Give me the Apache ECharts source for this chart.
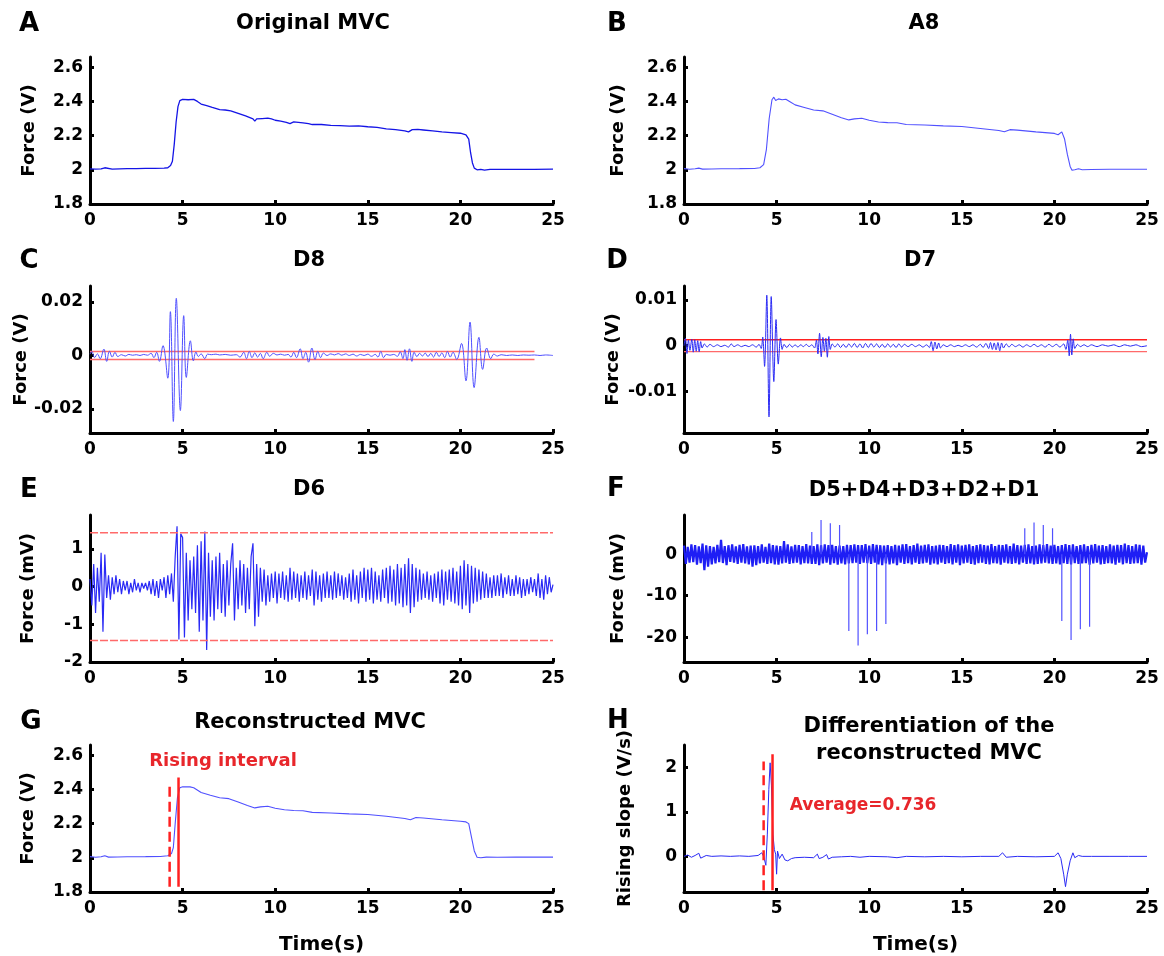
<!DOCTYPE html>
<html><head><meta charset="utf-8">
<script src="https://cdn.jsdelivr.net/npm/echarts@6/dist/echarts.min.js"></script>
<style>html,body{margin:0;padding:0;background:#fff}#c{width:1164px;height:956px}</style>
</head><body><div id="c"></div>
<script>
// ---------------- DATA ----------------
const xTicks = [0, 5, 10, 15, 20, 25];

// A: original MVC force (V), [time s, value]
const origMVC = [[0,2.006],[0.3,2.004],[0.6,2.005],[0.8,2.012],[0.9,2.006],[1.2,2.004],[1.6,2.006],[2.0,2.007],[2.5,2.007],[3.0,2.008],[3.5,2.009],[4.0,2.010],[4.2,2.012],[4.35,2.025],[4.45,2.05],[4.55,2.15],[4.65,2.28],[4.75,2.37],[4.85,2.405],[5.0,2.412],[5.3,2.41],[5.6,2.412],[5.8,2.4],[6.0,2.385],[6.3,2.375],[6.6,2.365],[7.0,2.352],[7.3,2.35],[7.6,2.345],[8.0,2.33],[8.4,2.315],[8.8,2.298],[8.9,2.285],[9.0,2.298],[9.3,2.3],[9.6,2.302],[9.8,2.298],[10.0,2.29],[10.3,2.285],[10.6,2.278],[10.8,2.27],[11.0,2.28],[11.5,2.275],[11.8,2.27],[12.0,2.265],[12.5,2.265],[13.0,2.26],[13.5,2.258],[14.0,2.256],[14.5,2.257],[15.0,2.252],[15.5,2.248],[16.0,2.24],[16.5,2.235],[17.0,2.228],[17.2,2.222],[17.4,2.235],[17.7,2.236],[18.0,2.233],[18.5,2.228],[19.0,2.222],[19.5,2.218],[20.0,2.214],[20.3,2.205],[20.45,2.18],[20.55,2.1],[20.65,2.04],[20.75,2.01],[20.9,2.0],[21.1,2.003],[21.3,1.998],[21.6,2.002],[22.0,2.002],[23.0,2.003],[24.0,2.003],[25.0,2.004]];

// B: approximation A8 (V)
const approxA8 = [[0,2.007],[0.3,2.003],[0.6,2.006],[0.8,2.01],[1.0,2.004],[1.5,2.005],[2,2.006],[3,2.007],[3.8,2.008],[4.1,2.012],[4.3,2.03],[4.45,2.12],[4.6,2.3],[4.75,2.41],[4.85,2.425],[4.95,2.405],[5.1,2.415],[5.3,2.41],[5.5,2.413],[5.7,2.4],[6.0,2.38],[6.5,2.365],[7.0,2.35],[7.5,2.345],[8.0,2.325],[8.5,2.305],[8.9,2.292],[9.2,2.298],[9.6,2.302],[10.0,2.29],[10.5,2.28],[11.0,2.276],[11.5,2.275],[12.0,2.265],[13.0,2.262],[14.0,2.257],[15.0,2.253],[16.0,2.242],[17.0,2.23],[17.3,2.223],[17.6,2.235],[18.0,2.232],[19.0,2.222],[20.0,2.213],[20.2,2.205],[20.4,2.222],[20.55,2.18],[20.7,2.09],[20.85,2.02],[20.95,1.998],[21.1,2.0],[21.3,2.006],[21.5,2.0],[22,2.002],[23,2.003],[25,2.003]];

// C: detail D8 (V)
const detailD8 = [[0,0.0005],[0.1,0.0015],[0.25,-0.0008],[0.4,0.0006],[0.55,-0.0012],[0.75,0.0024],[0.9,-0.0022],[1.05,0.0016],[1.2,-0.0006],[1.35,0.0012],[1.5,-0.0004],[1.7,0.0003],[1.9,-0.0002],[2.1,0.0004],[2.3,0.0001],[2.5,0.0003],[2.7,0],[2.9,0.0004],[3.1,0.0001],[3.3,0.0008],[3.45,-0.0008],[3.6,0.0012],[3.75,-0.0022],[3.94,0.0037],[4.2,-0.0085],[4.34,0.0164],[4.5,-0.0247],[4.66,0.0214],[4.88,-0.0206],[5.06,0.0149],[5.2,-0.0082],[5.42,0.0055],[5.58,-0.002],[5.72,0.0013],[5.85,-0.0004],[6.0,0.0006],[6.2,-0.0012],[6.35,0.0005],[6.55,0.0003],[6.8,0.0005],[7.0,0.0002],[7.3,0.0004],[7.6,0.0001],[7.9,0.0003],[8.1,-0.0006],[8.3,0.0012],[8.45,-0.0012],[8.6,0.0015],[8.75,-0.0008],[8.9,0.001],[9.05,-0.0006],[9.2,0.0008],[9.35,-0.0012],[9.55,0.0012],[9.7,-0.0003],[9.9,0.0008],[10.1,0.0002],[10.3,0.0005],[10.5,0.0001],[10.7,0.0004],[10.85,-0.0006],[11.0,0.0012],[11.15,-0.0008],[11.35,0.0025],[11.5,-0.0012],[11.65,0.0012],[11.8,-0.0025],[11.98,0.0028],[12.15,-0.0015],[12.3,0.0015],[12.45,-0.0008],[12.6,0.0009],[12.8,0],[13.0,0.0006],[13.2,0.0002],[13.4,0.0007],[13.6,0.0001],[13.8,0.0006],[14.0,0],[14.2,0.0005],[14.4,-0.0002],[14.6,0.0004],[14.8,0],[15.0,0.0005],[15.2,-0.0003],[15.4,0.0004],[15.55,-0.0006],[15.7,0.0015],[15.85,-0.0008],[16.0,0.0004],[16.2,0.0001],[16.4,0.0004],[16.6,-0.0003],[16.75,0.0014],[16.9,-0.0012],[17.0,0.0022],[17.12,-0.0018],[17.25,0.0025],[17.38,-0.0022],[17.5,0.0012],[17.65,-0.0004],[17.8,0.0008],[17.95,-0.0002],[18.1,0.0009],[18.25,-0.0004],[18.4,0.0008],[18.55,-0.0006],[18.7,0.0012],[18.85,-0.0004],[19.0,0.001],[19.15,-0.0008],[19.3,0.0015],[19.45,-0.0006],[19.6,0.0012],[19.8,-0.0015],[20.06,0.0045],[20.3,-0.0095],[20.52,0.0125],[20.74,-0.012],[21.0,0.0068],[21.2,-0.0052],[21.42,0.0028],[21.64,-0.0012],[21.8,0.0005],[22.0,-0.0002],[22.2,0.0003],[22.5,0],[22.8,0.0002],[23.1,0],[23.4,0.0002],[23.7,0.0001],[24.0,0.0002],[24.3,0],[24.6,0.0002],[25.0,0]];
const d8Threshold = [0.0015, -0.0015];
const d8ThresholdSpan = [0, 24];

// D: detail D7 (V)
const detailD7 = [[0,0],[0.08,0.0016],[0.16,-0.0017],[0.24,0.0012],[0.32,-0.001],[0.42,0.0014],[0.5,-0.0014],[0.58,0.0013],[0.66,-0.0012],[0.74,0.0011],[0.82,-0.0013],[0.9,0.0009],[0.98,-0.0005],[1.1,0.0004],[1.25,-0.0003],[1.4,0.0003],[1.6,-0.0002],[1.8,0.0002],[2.0,-0.0002],[2.2,0.0001],[2.4,-0.0003],[2.55,0.0004],[2.7,-0.0002],[2.9,0.0002],[3.1,-0.0002],[3.3,0.0001],[3.5,-0.0002],[3.7,0.0002],[3.9,-0.0003],[4.05,0.0003],[4.17,-0.0006],[4.25,0.0019],[4.35,-0.0045],[4.47,0.011],[4.59,-0.0155],[4.71,0.0107],[4.85,-0.0078],[4.97,0.0057],[5.09,-0.004],[5.21,0.0017],[5.3,-0.0008],[5.4,0.0003],[5.55,-0.0004],[5.7,0.0003],[5.85,-0.0003],[6.0,0.0002],[6.15,-0.0003],[6.3,0.0002],[6.45,-0.0002],[6.6,0.0003],[6.75,-0.0002],[6.9,0.0002],[7.05,-0.0005],[7.15,0.0012],[7.23,-0.0018],[7.32,0.0027],[7.41,-0.0024],[7.5,0.0018],[7.58,-0.0012],[7.66,0.0016],[7.74,-0.0025],[7.82,0.002],[7.9,-0.0008],[8.0,0.0004],[8.15,-0.0003],[8.3,0.0004],[8.45,-0.0004],[8.6,0.0003],[8.75,-0.0004],[8.9,0.0004],[9.05,-0.0003],[9.2,0.0005],[9.35,-0.0004],[9.5,0.0004],[9.65,-0.0005],[9.8,0.0005],[9.95,-0.0004],[10.1,0.0005],[10.25,-0.0003],[10.4,0.0004],[10.55,-0.0004],[10.7,0.0003],[10.85,-0.0004],[11.0,0.0004],[11.15,-0.0003],[11.3,0.0003],[11.45,-0.0004],[11.6,0.0004],[11.75,-0.0003],[11.9,0.0003],[12.1,-0.0002],[12.3,0.0003],[12.5,-0.0002],[12.7,0.0002],[12.9,-0.0003],[13.1,0.0002],[13.25,-0.0004],[13.35,0.0009],[13.45,-0.0011],[13.55,0.0008],[13.65,-0.0007],[13.75,0.0006],[13.85,-0.0005],[14.0,0.0002],[14.2,-0.0002],[14.4,0.0002],[14.6,-0.0002],[14.8,0.0001],[15.0,-0.0002],[15.2,0.0002],[15.4,-0.0002],[15.6,0.0002],[15.8,-0.0003],[16.0,0.0003],[16.15,-0.0004],[16.3,0.0005],[16.45,-0.0006],[16.55,0.0007],[16.65,-0.0008],[16.75,0.0006],[16.85,-0.0009],[16.95,0.0007],[17.05,-0.0011],[17.15,0.0006],[17.25,-0.0005],[17.4,0.0004],[17.55,-0.0003],[17.7,0.0003],[17.9,-0.0002],[18.1,0.0002],[18.3,-0.0003],[18.5,0.0002],[18.7,-0.0002],[18.9,0.0003],[19.1,-0.0002],[19.3,0.0002],[19.5,-0.0003],[19.7,0.0003],[19.9,-0.0002],[20.1,0.0003],[20.3,-0.0003],[20.5,0.0004],[20.62,-0.0008],[20.72,0.0012],[20.8,-0.0022],[20.87,0.0025],[20.94,-0.002],[21.02,0.0015],[21.1,-0.0006],[21.25,0.0003],[21.4,-0.0002],[21.6,0.0002],[21.8,-0.0002],[22.0,0.0002],[22.3,-0.0002],[22.6,0.0002],[22.9,-0.0001],[23.2,0.0002],[23.5,-0.0002],[23.8,0.0002],[24.1,-0.0001],[24.4,0.0002],[24.7,-0.0002],[25.0,0]];
const d7Threshold = [0.0013, -0.0013];

// E: detail D6 (mV), one sample every 0.1 s from 0 to 25 s
const d6Step = 0.1;
const detailD6 = [
 0.2,-0.5,0.6,-0.7,0.5,-0.4,0.9,-1.2,0.85,-0.3,
 0.3,-0.35,0.25,-0.2,0.3,-0.15,0.2,-0.2,0.15,-0.1,
 0.15,-0.2,0.1,-0.15,0.2,-0.1,0.1,-0.15,0.1,-0.05,
 0.1,-0.1,0.15,-0.2,0.2,-0.25,0.15,-0.3,0.2,-0.1,
 0.25,-0.3,0.3,-0.2,0.35,-0.4,0.8,1.6,-1.4,1.4,
 1.3,-1.35,0.9,-0.9,0.7,-0.6,0.8,-0.7,1.1,-1.2,
 1.2,-0.9,1.46,-1.68,0.9,-0.8,0.7,-0.9,0.8,-0.6,
 0.9,-0.7,0.6,-0.8,0.7,-0.5,0.6,1.15,-0.9,0.5,
 -0.6,0.7,-0.5,0.6,-0.7,0.5,-0.6,0.8,1.15,-1.05,
 0.6,-0.8,0.5,-0.4,0.45,-0.5,0.3,-0.4,0.35,-0.3,
 0.4,-0.45,0.35,-0.3,0.4,-0.35,0.3,-0.4,0.5,-0.35,
 0.4,-0.3,0.35,-0.4,0.3,-0.3,0.4,-0.35,0.3,-0.25,
 0.45,-0.5,0.4,-0.35,0.3,-0.4,0.35,-0.3,0.4,-0.3,
 0.3,-0.35,0.4,-0.3,0.35,-0.25,0.3,-0.35,0.25,-0.3,
 0.35,-0.4,0.45,-0.35,0.3,-0.45,0.4,-0.3,0.5,-0.4,
 0.45,-0.35,0.5,-0.45,0.4,-0.35,0.3,-0.4,0.45,-0.3,
 0.5,-0.45,0.55,-0.4,0.45,-0.5,0.6,-0.45,0.5,-0.55,
 0.6,-0.5,0.75,-0.7,0.6,-0.55,0.5,-0.4,0.45,-0.35,
 0.35,-0.3,0.4,-0.35,0.3,-0.4,0.35,-0.3,0.4,-0.45,
 0.45,-0.5,0.4,-0.35,0.45,-0.4,0.5,-0.45,0.4,-0.5,
 0.55,-0.6,0.7,-0.5,0.6,-0.7,0.55,-0.45,0.5,-0.4,
 0.45,-0.35,0.4,-0.3,0.35,-0.3,0.25,-0.3,0.3,-0.25,
 0.3,-0.25,0.35,-0.3,0.25,-0.2,0.3,-0.25,0.2,-0.25,
 0.3,-0.2,0.25,-0.3,0.2,-0.25,0.2,-0.2,0.25,-0.15,
 0.2,-0.25,0.35,-0.3,0.2,-0.35,0.3,-0.2,0.25,-0.15,
 0.05];
const d6Threshold = [1.43, -1.43];

// F: D5+D4+D3+D2+D1 (mV): background noise, one sample every 0.1 s
const highStep = 0.1;
const highNoise = [
 2.1,-2.3,1.8,-2.0,2.4,-1.9,2.2,-2.5,1.9,-2.1,
 2.6,-3.8,2.2,-3.0,2.0,-2.4,1.8,-2.2,2.3,-1.9,
 3.5,-2.1,2.0,-2.6,2.2,-1.8,2.4,-2.0,1.9,-2.3,
 2.3,-2.0,2.5,-2.2,1.9,-2.4,2.1,-3.0,2.2,-2.6,
 2.0,-2.2,2.4,-2.0,1.8,-2.3,2.6,-2.1,2.2,-2.4,
 2.1,-2.5,2.0,-2.2,3.2,-2.0,2.4,-2.3,1.9,-2.1,
 2.3,-2.0,2.2,-2.4,2.0,-2.1,2.5,-2.2,2.1,-2.3,
 2.0,-2.3,2.4,-2.6,2.2,-2.2,2.4,-2.0,2.2,-2.5,
 2.3,-2.1,2.0,-2.5,2.1,-2.2,2.0,-2.4,2.3,-2.2,
 2.2,-2.1,2.4,-2.0,2.2,-2.3,2.2,-2.0,2.5,-2.1,
 2.1,-2.3,2.5,-2.0,2.3,-2.4,2.2,-2.6,2.1,-2.2,
 2.2,-2.4,2.0,-2.2,2.3,-2.6,2.1,-2.0,2.4,-2.3,
 2.5,-2.1,2.0,-2.4,2.2,-2.0,2.6,-2.3,2.1,-2.2,
 2.3,-2.0,2.4,-2.5,2.0,-2.2,2.1,-2.4,2.3,-2.0,
 2.2,-2.3,2.0,-2.1,2.5,-2.4,2.2,-2.0,2.4,-2.6,
 2.1,-2.2,2.3,-2.0,2.4,-2.3,2.0,-2.5,2.2,-2.1,
 2.4,-2.0,2.2,-2.3,2.1,-2.4,2.5,-2.1,2.0,-2.2,
 2.3,-2.5,2.2,-2.0,2.4,-2.2,2.0,-2.3,2.6,-2.1,
 2.2,-2.4,2.1,-2.0,2.3,-2.3,2.4,-2.2,2.0,-2.4,
 2.1,-2.3,2.4,-2.2,2.2,-2.0,2.5,-2.2,2.1,-2.3,
 2.3,-2.2,2.0,-2.4,2.2,-2.1,2.5,-2.3,2.2,-2.4,
 2.4,-2.1,2.0,-2.3,2.2,-2.2,2.4,-2.1,2.0,-2.5,
 2.3,-2.2,2.5,-2.0,2.1,-2.4,2.2,-2.3,2.0,-2.1,
 2.4,-2.2,2.1,-2.5,2.3,-2.0,2.2,-2.4,2.6,-2.1,
 2.2,-2.3,2.0,-2.2,2.4,-2.1,2.3,-2.5,2.1,-2.0,
 0.5];
// F: isolated spikes (time s, peak mV)
const highSpikeTimes  = [6.9, 7.4, 7.9, 8.4, 8.9, 9.4, 9.9, 10.4, 10.9, 18.4, 18.9, 19.4, 19.9, 20.4, 20.9, 21.4, 21.9];
const highSpikeValues = [5.4, 8.3, 7.5, 7.1, -18.5, -22.0, -19.3, -18.5, -16.8, 6.3, 7.7, 7.1, 6.3, -16.1, -20.7, -18.1, -17.5];

// G: reconstructed MVC (V)
const reconMVC = [[0,2.007],[0.3,2.003],[0.6,2.006],[0.8,2.012],[1.0,2.004],[1.5,2.005],[2,2.006],[3,2.007],[3.8,2.008],[4.2,2.012],[4.4,2.025],[4.5,2.06],[4.6,2.2],[4.72,2.35],[4.85,2.41],[5.0,2.416],[5.4,2.415],[5.6,2.41],[6.0,2.382],[6.5,2.366],[7.0,2.351],[7.5,2.346],[8.0,2.326],[8.5,2.306],[8.9,2.292],[9.2,2.298],[9.6,2.302],[10.0,2.29],[10.5,2.281],[11.0,2.277],[11.5,2.275],[12.0,2.266],[13.0,2.262],[14.0,2.257],[15.0,2.253],[16.0,2.243],[17.0,2.23],[17.3,2.223],[17.6,2.236],[18.0,2.233],[19.0,2.223],[20.0,2.214],[20.3,2.21],[20.45,2.2],[20.6,2.12],[20.75,2.04],[20.9,2.003],[21.1,2.0],[21.4,2.004],[22,2.003],[23,2.004],[25,2.004]];
const risingStart = 4.3;
const risingEnd = 4.78;
const gDashedSpan = [1.83, 2.42];
const gSolidSpan = [1.83, 2.47];

// H: differentiation of reconstructed MVC (V/s)
const slopeMVC = [[0,0],[0.2,0.03],[0.4,-0.02],[0.6,0.02],[0.8,0.07],[0.9,-0.04],[1.0,-0.05],[1.2,0.02],[1.5,0],[2,0.01],[2.5,0],[3,0.01],[3.5,0],[4.0,0.02],[4.2,0.08],[4.3,0],[4.42,-0.2],[4.5,0.5],[4.58,1.5],[4.65,2.1],[4.72,1.6],[4.8,0.5],[4.88,0.15],[4.95,0.05],[5.0,-0.4],[5.05,0.12],[5.15,-0.05],[5.3,0.05],[5.45,-0.08],[5.6,-0.1],[5.8,-0.05],[6,-0.03],[6.5,-0.02],[7.0,-0.03],[7.2,0.05],[7.3,-0.05],[7.5,-0.02],[7.7,0.04],[7.8,-0.06],[8,-0.02],[8.5,-0.01],[9,0],[9.5,-0.02],[10,0],[11,-0.01],[11.5,-0.03],[12,0],[13,-0.01],[14,0],[15,-0.01],[16,0],[17,0],[17.2,0.08],[17.4,-0.02],[18,0],[19,-0.01],[20,0],[20.2,0.08],[20.35,-0.05],[20.5,-0.4],[20.6,-0.68],[20.7,-0.4],[20.85,-0.1],[21.0,0.08],[21.1,-0.03],[21.3,0.02],[21.5,0],[22,0],[23,0],[24,0],[25,0]];
const hDashedSpan = [-0.76, 2.13];
const hSolidSpan = [-0.76, 2.29];
const averageSlope = 0.736;

// ---------------- LAYOUT ----------------
const FONT = '"DejaVu Sans", "Liberation Sans", sans-serif';
const panels = [
 {letter:'A', lx:29, ly:24, title:['Original MVC'], tx:313, ty:24, left:90, top:57, yMin:1.8, yMax:2.66, yTicks:[1.8,2,2.2,2.4,2.6], yName:'Force (V)', gap:52},
 {letter:'B', lx:617, ly:24, title:['A8'], tx:924, ty:24, left:684, top:57, yMin:1.8, yMax:2.66, yTicks:[1.8,2,2.2,2.4,2.6], yName:'Force (V)', gap:57},
 {letter:'C', lx:29, ly:261, title:['D8'], tx:309, ty:261, left:90, top:286, yMin:-0.029, yMax:0.026, yTicks:[-0.02,0,0.02], yName:'Force (V)', gap:59},
 {letter:'D', lx:617, ly:261, title:['D7'], tx:920, ty:261, left:684, top:286, yMin:-0.019, yMax:0.013, yTicks:[-0.01,0,0.01], yName:'Force (V)', gap:62},
 {letter:'E', lx:29, ly:490, title:['D6'], tx:309, ty:490, left:90, top:515, yMin:-2, yMax:1.9, yTicks:[-2,-1,0,1], yName:'Force (mV)', gap:53},
 {letter:'F', lx:616, ly:489, title:['D5+D4+D3+D2+D1'], tx:924, ty:491, left:684, top:515, yMin:-26, yMax:9.5, yTicks:[-20,-10,0], yName:'Force (mV)', gap:57},
 {letter:'G', lx:31, ly:722, title:['Reconstructed MVC'], tx:310, ty:723, left:90, top:745, yMin:1.8, yMax:2.66, yTicks:[1.8,2,2.2,2.4,2.6], yName:'Force (V)', gap:53, xName:'Time(s)'},
 {letter:'H', lx:618, ly:721, title:['Differentiation of the','reconstructed MVC'], tx:929, ty:727, left:684, top:745, yMin:-0.8, yMax:2.5, yTicks:[0,1,2], yName:'Rising slope (V/s)', gap:50, xName:'Time(s)'}
];
const GRID_W = 463, GRID_H = 147;

const grids = [], xAxes = [], yAxes = [], graphics = [];
panels.forEach((p, i) => {
  grids.push({left:p.left, top:p.top, width:GRID_W, height:GRID_H, containLabel:false});
  xAxes.push({
    type:'value', gridIndex:i, min:0, max:25,
    name: p.xName || '', nameLocation:'middle', nameGap:43,
    nameTextStyle:{fontFamily:FONT, fontWeight:'bold', fontSize:20, color:'#000'},
    axisLine:{show:true, onZero:false, lineStyle:{color:'#000', width:3}},
    axisTick:{show:true, inside:true, length:4, customValues:xTicks, lineStyle:{color:'#000', width:3}},
    axisLabel:{customValues:xTicks, fontFamily:FONT, fontWeight:'bold', fontSize:17, color:'#000', margin:8},
    splitLine:{show:false}
  });
  yAxes.push({
    type:'value', gridIndex:i, min:p.yMin, max:p.yMax,
    name:p.yName, nameLocation:'middle', nameRotate:90, nameGap:p.gap,
    nameTextStyle:{fontFamily:FONT, fontWeight:'bold', fontSize:18, color:'#000'},
    axisLine:{show:true, onZero:false, lineStyle:{color:'#000', width:3}},
    axisTick:{show:true, inside:true, length:4, customValues:p.yTicks, lineStyle:{color:'#000', width:3}},
    axisLabel:{customValues:p.yTicks, fontFamily:FONT, fontWeight:'bold', fontSize:17, color:'#000', margin:7},
    splitLine:{show:false}
  });
  graphics.push({type:'text', x:p.lx, y:p.ly, style:{text:p.letter, font:'bold 26px ' + FONT, fill:'#000', textAlign:'center', textVerticalAlign:'middle'}});
  p.title.forEach((t, k) => {
    graphics.push({type:'text', x:p.tx, y:p.ty + k * 27, style:{text:t, font:'bold 21px ' + FONT, fill:'#000', textAlign:'center', textVerticalAlign:'middle'}});
  });
});
graphics.push({type:'text', x:223, y:761, style:{text:'Rising interval', font:'bold 18px ' + FONT, fill:'#e8262b', textAlign:'center', textVerticalAlign:'middle'}});
graphics.push({type:'text', x:863, y:806, style:{text:'Average=' + averageSlope, font:'bold 17px ' + FONT, fill:'#e8262b', textAlign:'center', textVerticalAlign:'middle'}});

const stepSeries = (vals, step) => vals.map((v, i) => [+(i * step).toFixed(3), v]);
const hLine = (val, span) => [[span[0], val], [span[1], val]];
const vLine = (x, span) => [[x, span[0]], [x, span[1]]];
const spikeLines = (times, vals) => {
  const out = [];
  times.forEach((t, k) => { out.push([t, 0], [t, vals[k]], [t, '-']); });
  return out;
};

function line(idx, data, color, width, extra) {
  return Object.assign({type:'line', xAxisIndex:idx, yAxisIndex:idx, data:data, showSymbol:false, symbol:'none',
    animation:false, connectNulls:false, lineStyle:{color:color, width:width}, z:3}, extra || {});
}
const BLUE = '#2a2af5', LBLUE = '#5050ff', RED = '#ff2020', LRED = '#ff6a6a';

const series = [
  line(0, origMVC, '#1414e6', 1.3),
  line(1, approxA8, LBLUE, 1.1),
  line(2, hLine(d8Threshold[0], d8ThresholdSpan), LRED, 1.4),
  line(2, hLine(d8Threshold[1], d8ThresholdSpan), LRED, 1.4),
  line(2, detailD8, LBLUE, 1, {smooth:0.4}),
  line(3, hLine(d7Threshold[0], [0,25]), RED, 1.5),
  line(3, hLine(d7Threshold[1], [0,25]), LRED, 1.2),
  line(3, detailD7, BLUE, 1, {smooth:0.3}),
  line(4, stepSeries(detailD6, d6Step), BLUE, 1.2),
  line(4, hLine(d6Threshold[0], [0,25]), LRED, 1.5, {lineStyle:{color:LRED, width:1.5, type:[8,2]}}),
  line(4, hLine(d6Threshold[1], [0,25]), LRED, 1.5, {lineStyle:{color:LRED, width:1.5, type:[8,2]}}),
  line(5, stepSeries(highNoise, highStep), '#1e1ef5', 2.2),
  line(5, spikeLines(highSpikeTimes, highSpikeValues), LBLUE, 1.2),
  line(6, reconMVC, LBLUE, 1.1),
  line(6, vLine(risingStart, gDashedSpan), RED, 2.5, {lineStyle:{color:RED, width:2.5, type:[10,5]}}),
  line(6, vLine(risingEnd, gSolidSpan), RED, 2.5),
  line(7, slopeMVC, BLUE, 1),
  line(7, vLine(risingStart, hDashedSpan), RED, 2.5, {lineStyle:{color:RED, width:2.5, type:[10,5]}}),
  line(7, vLine(risingEnd, hSolidSpan), RED, 2.5)
];

const chart = echarts.init(document.getElementById('c'), null, {renderer:'canvas'});
chart.setOption({
  backgroundColor:'#fff', animation:false,
  grid:grids, xAxis:xAxes, yAxis:yAxes, series:series, graphic:graphics
});
</script></body></html>
